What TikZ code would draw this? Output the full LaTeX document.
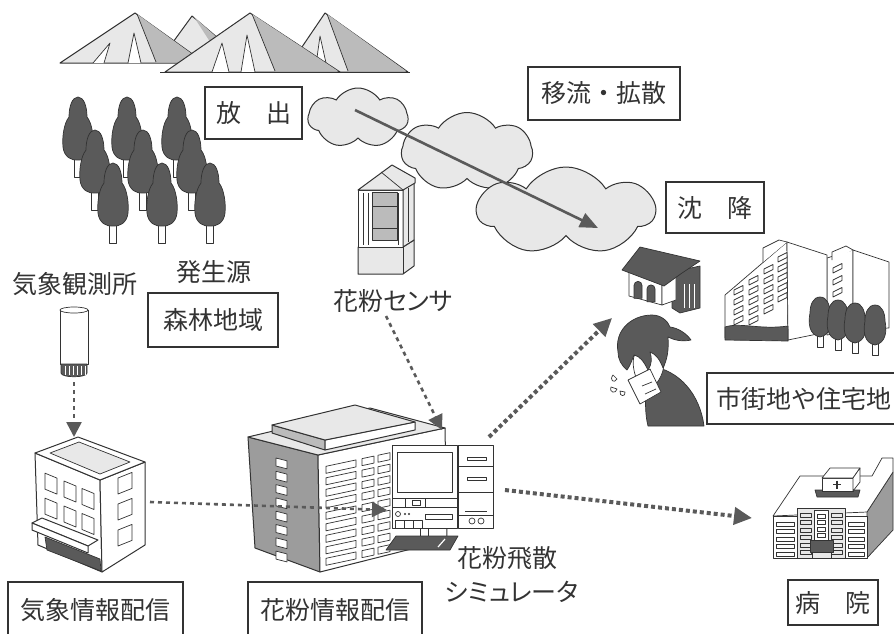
\documentclass[tikz,border=0pt]{standalone}
\usepackage{fontspec}
\setmainfont{Noto Sans CJK JP}
\usetikzlibrary{shapes.symbols,arrows.meta}
\definecolor{ink}{HTML}{333333}
\definecolor{shade}{HTML}{5A5A5A}
\definecolor{stip}{HTML}{E8E8E8}
\definecolor{midg}{HTML}{BBBBBB}
\definecolor{wall}{HTML}{9C9C9C}
\tikzset{
  lbl/.style={font=\fontsize{25}{30}\selectfont, text=ink, inner sep=0pt},
  kana/.style={lbl, font=\fontsize{25}{30}\selectfont\addfontfeatures{RawFeature=+palt}},
  tagbox/.style={lbl, draw=ink, line width=1.2pt},
  outline/.style={draw=ink, line width=1pt, line join=round},
  thin/.style={draw=ink, line width=0.7pt, line join=round},
  haze/.style={cloud, cloud puffs=7, cloud puff arc=115, draw=ink, line width=1pt, fill=stip, inner sep=0pt},
  feed/.style={draw=shade, line width=2.6pt, dash pattern=on 4pt off 4pt, -{Triangle[length=15pt,width=15pt]}},
  spread/.style={draw=shade, line width=4pt, dash pattern=on 4pt off 3pt, -{Triangle[length=18pt,width=17pt]}},
  drift/.style={draw=shade, line width=2.6pt, -{Triangle[length=18pt,width=15pt]}},
  conifer/.pic={
    \draw[thin, fill=white] (-3.5,52) rectangle (3.5,80);
    \draw[thin, fill=shade] (0,0) .. controls (6,0) and (9,10) .. (9,20)
      .. controls (14,26) and (16,40) .. (15,50)
      .. controls (14,60) and (6,64) .. (0,63)
      .. controls (-6,64) and (-14,60) .. (-15,50)
      .. controls (-16,40) and (-14,26) .. (-9,20)
      .. controls (-9,10) and (-6,0) .. (0,0) -- cycle;
  },
  broadleaf/.pic={
    \draw[thin, fill=white] (-3,35) rectangle (3,50);
    \draw[thin, fill=shade] (0,0) .. controls (7,0) and (10,8) .. (10,16)
      .. controls (12,26) and (11,38) .. (0,40)
      .. controls (-11,38) and (-12,26) .. (-10,16)
      .. controls (-10,8) and (-7,0) .. (0,0) -- cycle;
  }
}
% slanted window: x1, x2, top y at x1, height, slope
\newcommand\slantwin[5]{%
  \draw[thin, fill=white] ({#1},{#3}) -- ({#2},{#3+(#5)*((#2)-(#1))}) -- ++(0,{#4}) -- ({#1},{#3+#4}) -- cycle;}
\begin{document}
\begin{tikzpicture}[x=1pt, y=-1pt]
\useasboundingbox (0,0) rectangle (894,633);
\clip (0,0) rectangle (894,633);

% ---------- mountains ----------
\draw[outline, fill=stip] (160,60) -- (192,16) -- (232,50) -- cycle;
\fill[midg] (194,17) -- (214,48) -- (231,50) -- cycle;
\draw[outline, fill=stip] (60,63) -- (135,13) -- (205,63) -- cycle;
\fill[midg] (137,14) -- (156,62) -- (203,62) -- cycle;
\draw[thin] (137,14) -- (156,62);
\draw[thin, fill=white] (93,63) -- (110,43) -- (104,63);
\draw[thin, fill=white] (128,63) -- (134,33) -- (141,63);
\draw[outline, fill=stip] (285,72) -- (325,13) -- (408,72) -- cycle;
\fill[midg] (327,14) -- (348,71) -- (406,71) -- cycle;
\draw[thin] (327,14) -- (348,71);
\draw[thin, fill=white] (315,72) -- (320,36) -- (328,72);
\draw[outline, fill=stip] (165,72) -- (250,13) -- (340,72) -- cycle;
\fill[midg] (252,14) -- (275,71) -- (338,71) -- cycle;
\draw[thin] (252,14) -- (275,71);
\draw[thin, fill=white] (212,72) -- (222,43) -- (229,72);
\draw[thin, fill=white] (241,72) -- (247,35) -- (255,72);
\draw[outline] (160,72) -- (410,72);

% ---------- forest ----------
\foreach \x in {78,127,177} \pic at (\x,97) {conifer};
\foreach \x in {95,143,192} \pic at (\x,130) {conifer};
\foreach \x in {113,162,210} \pic at (\x,163) {conifer};

% ---------- clouds and drift ----------
\node[haze, minimum width=100pt, minimum height=60pt] (c1) at (358,118) {};
\node[haze, minimum width=131pt, minimum height=79pt] (c2) at (467,152) {};
\node[haze, minimum width=177pt, minimum height=88pt] (c3) at (566,211) {};
\coordinate (drift-a) at (355,110);
\coordinate (drift-b) at (598,228);
\draw[drift] (drift-a) -- (drift-b);

% ---------- pollen sensor ----------
\draw[outline, fill=stip] (358,247) -- (403,247) -- (414,240) -- (414,266) -- (403,274) -- (358,274) -- cycle;
\draw[thin] (403,247) -- (403,274);
\draw[outline, fill=white] (358,190) rectangle (403,247);
\draw[outline, fill=stip] (403,190) -- (414,180) -- (414,240) -- (403,247) -- cycle;
\draw[thin] (363,193) -- (363,245) (368,193) -- (368,245) (398,193) -- (398,245) (408,188) -- (408,242);
\draw[thin, fill=midg] (372,192) rectangle (397,240);
\draw[thin] (372,206) -- (397,206) (372,228) -- (397,228);
\draw[outline, fill=stip] (358,190) -- (392,165) -- (415,178) -- (415,183) -- (403,190) -- cycle;
\draw[thin] (381,172) -- (403,190);
\coordinate (sensor) at (386,316);

% ---------- weather station instrument ----------
\draw[thin, fill=white] (60,310) -- (60,364) -- (88,364) -- (88,310);
\draw[thin, fill=white] (74,310) ellipse (14 and 3);
\draw[thin, fill=shade] (61,364) -- (87,364) -- (87,373) .. controls (87,378) and (61,378) .. (61,373) -- cycle;
\foreach \x in {65,69,...,85} \draw[white, line width=0.8pt] (\x,366) -- (\x,375);
\coordinate (obs) at (74,382);

% ---------- weather information office ----------
\draw[outline, fill=white] (35,453) -- (100,480) -- (102,572) -- (38,545) -- cycle;
\draw[outline, fill=white] (100,480) -- (145,462) -- (145,545) -- (102,572) -- cycle;
\draw[outline, fill=white] (35,453) -- (78,437) -- (145,462) -- (100,480) -- cycle;
\draw[thin, fill=stip] (50,453) -- (79,442) -- (130,462) -- (100,474) -- cycle;
\foreach \x in {45,64,82} {
  \slantwin{\x}{\x+12}{469+0.415*(\x-35)}{16}{0.415}
  \slantwin{\x}{\x+12}{494+0.415*(\x-35)}{16}{0.415}
}
\foreach \yy in {478,504,530} {\slantwin{118}{132}{\yy}{16}{-0.4}}
\draw[thin, fill=shade] (45,537) -- (100,559) -- (101,571) -- (47,550) -- cycle;
\draw[outline, fill=white] (32,523) -- (42,518) -- (98,540) -- (88,546) -- cycle;
\draw[outline, fill=white] (32,523) -- (88,546) -- (88,553) -- (32,530) -- cycle;
\coordinate (wb-top) at (74,437);
\coordinate (wb-side) at (150,502);

% ---------- pollen information office ----------
\draw[outline, fill=wall] (248,437) -- (318,455) -- (320,572) -- (255,548) -- cycle;
\draw[outline, fill=white] (318,455) -- (445,428) -- (447,540) -- (320,572) -- cycle;
\draw[outline, fill=stip] (248,437) -- (370,408) -- (445,428) -- (318,455) -- cycle;
\draw[outline, fill=midg] (272,425) -- (325,440) -- (325,450) -- (272,433) -- cycle;
\draw[outline, fill=white] (325,440) -- (415,422) -- (415,430) -- (325,450) -- cycle;
\draw[outline, fill=stip] (272,425) -- (355,405) -- (415,422) -- (325,440) -- cycle;
\foreach \k in {0,...,7} {\slantwin{276}{287}{458+13.3*\k}{8}{0.257}}
\foreach \k in {0,...,8} {
  \slantwin{326}{356}{468+11.5*\k-0.213*8}{7}{-0.213}
  \slantwin{362}{374}{468+11.5*\k-0.213*44}{7}{-0.213}
  \slantwin{378}{390}{468+11.5*\k-0.213*60}{7}{-0.213}
}

% ---------- simulator (computer) ----------
\draw[thin, fill=white] (392,445) rectangle (457,498);
\draw[thin, fill=white] (397,452) rectangle (452,492);
\draw[thin, fill=white] (392,498) rectangle (457,507);
\draw[thin] (405,498) -- (405,507) (412,500) rectangle (420,505) (425,498) -- (425,507);
\draw[thin, fill=white] (392,507) rectangle (457,528);
\draw[thin] (398,514) circle (2.5);
\fill[ink] (405,514) circle (1.2) (409,514) circle (1.2);
\draw[thin] (425,514) rectangle (452,519);
\draw[thin] (395,520) rectangle (404,528) (404,520) rectangle (413,528) (413,520) rectangle (422,528);
\draw[thin, fill=white] (458,445) rectangle (493,528);
\draw[thin] (458,466) -- (493,466) (458,492) -- (493,492) (458,515) -- (493,515);
\draw[thin] (467,457) rectangle (486,460) (467,477) rectangle (486,480);
\draw[thin] (465,511) -- (487,511);
\draw[thin] (472,521) circle (3) (481,521) circle (3);
\draw[thin] (420,528) -- (420,536) (428,528) -- (428,536);
\draw[thin, fill=shade] (386,550) -- (396,536) -- (458,536) -- (450,550) -- cycle;
\draw[white, line width=1.2pt] (438,547) -- (445,539);
\coordinate (pc-in) at (387,510);
\coordinate (pc-top) at (442,430);
\coordinate (pc-up) at (489,437);
\coordinate (pc-right) at (505,490);

% ---------- house ----------
\draw[thin, fill=shade] (672,272) -- (700,266) -- (700,308) -- (680,313) -- (672,308) -- cycle;
\foreach \x in {684,689,694} {\draw[white, line width=1pt] (\x,284) -- (\x,308);}
\draw[thin, fill=white] (629,270) -- (662,284) -- (662,305) -- (629,296) -- cycle;
\draw[thin, fill=white] (662,284) -- (676,276) -- (676,300) -- (662,305) -- cycle;
\foreach \x in {634,647} {\draw[thin, fill=shade] (\x,{297+(\x-629)*0.27}) -- ++(0,-13) arc (180:360:4) -- ++(0,13) -- cycle;}
\draw[thin, fill=shade] (622,270) -- (640,247) -- (700,261) -- (682,273) -- (664,286) -- cycle;

% ---------- person sneezing ----------
\draw[thin, fill=shade] (650,366) .. controls (680,370) and (700,395) .. (704,426) -- (648,426) .. controls (644,410) and (645,388) .. (650,366) -- cycle;
\draw[thin, fill=white] (634,356) .. controls (644,350) and (654,348) .. (662,352) .. controls (666,362) and (664,374) .. (656,384) -- (638,382) .. controls (634,374) and (632,364) .. (634,356) -- cycle;
\draw[thin, fill=shade] (618,352) .. controls (614,330) and (632,315) .. (652,315)
  .. controls (661,315) and (668,321) .. (670,327)
  .. controls (678,328) and (686,333) .. (691,340)
  .. controls (682,342) and (674,340) .. (668,337)
  .. controls (669,350) and (667,360) .. (663,368)
  .. controls (660,360) and (656,354) .. (650,352)
  .. controls (652,358) and (652,364) .. (648,370)
  .. controls (644,362) and (640,356) .. (634,355)
  .. controls (632,360) and (630,366) .. (627,370)
  .. controls (621,365) and (618,359) .. (618,352) -- cycle;
\draw[thin, fill=white] (628,380) -- (650,369) -- (661,392) -- (640,404) -- cycle;
\draw[thin] (642,386) -- (652,382) (645,394) -- (656,389);
\draw[thin] (613,375) .. controls (609,380) and (614,384) .. (617,379) -- cycle;
\draw[thin] (611,387) .. controls (609,393) and (616,394) .. (617,389) -- cycle;
\draw[thin] (620,391) .. controls (619,397) and (626,397) .. (625,392) -- cycle;
\coordinate (town) at (612,318);

% ---------- apartment blocks ----------
\draw[thin, fill=white] (827,258) -- (853,250) -- (853,330) -- (827,335) -- cycle;
\draw[thin, fill=white] (853,250) -- (889,262) -- (889,328) -- (853,330) -- cycle;
\draw[thin, fill=white] (832,260) -- (832,252) -- (846,246) -- (853,250);
\foreach \yy in {268,280,292} {\slantwin{833}{842}{\yy}{5}{-0.5}}
\draw[thin, fill=white] (725,295) -- (787,242) -- (788,340) -- (725,338) -- cycle;
\draw[thin, fill=white] (787,242) -- (827,255) -- (827,332) -- (788,340) -- cycle;
\draw[thin, fill=white] (763,262) -- (763,248) -- (779,240) -- (787,242);
\foreach \x/\yy in {734/290,749/280,764/269,778/257} {
  \foreach \k in {0,...,4} {\slantwin{\x}{\x+9}{\yy+10*\k}{5}{-0.5}}
}
\draw[thin, fill=shade] (725,327) .. controls (740,322) and (760,330) .. (788,326) -- (788,341) -- (725,340) -- cycle;
\pic at (820,297) {broadleaf};
\pic at (838,300) {broadleaf};
\pic at (855,303) {broadleaf};
\pic at (875,305) {broadleaf};

% ---------- hospital ----------
\draw[thin, fill=wall] (867,512) -- (893,472) -- (893,530) -- (867,558) -- cycle;
\draw[thin, fill=white] (773,516) -- (800,476) -- (872,476) -- (882,458) -- (893,458) -- (893,472) -- (867,512) -- cycle;
\draw[thin, fill=stip] (797,508) rectangle (845,558);
\draw[thin, fill=white] (773,516) rectangle (797,558);
\draw[thin, fill=white] (845,516) rectangle (867,558);
\foreach \k in {0,...,4} {
  \draw[thin] (776,{522+7.5*\k}) rectangle (794,{526+7.5*\k});
  \draw[thin] (848,{522+7.5*\k}) rectangle (864,{526+7.5*\k});
}
\foreach \k in {0,...,5} {
  \draw[thin] (800,{513+7.5*\k}) rectangle (811,{517+7.5*\k});
  \draw[thin] (831,{513+7.5*\k}) rectangle (842,{517+7.5*\k});
}
\draw[thin, fill=white] (814,510) rectangle (828,540);
\foreach \k in {0,...,3} {\draw[thin] (817,{514+6.5*\k}) rectangle (825,{518+6.5*\k});}
\draw[thin, fill=shade] (810,540) rectangle (833,552);
\draw[thin] (812,552) -- (812,558) (831,552) -- (831,558);
\draw[thin, fill=shade] (815,490) -- (860,490) -- (858,497) -- (817,497) -- cycle;
\draw[thin, fill=white] (822,478) rectangle (853,491);
\draw[thin, fill=white] (822,478) -- (830,468) -- (860,468) -- (853,478) -- cycle;
\draw[thin, fill=white] (853,478) -- (860,468) -- (860,482) -- (853,491) -- cycle;
\draw[ink, line width=1.4pt] (833,484.5) -- (841,484.5) (837,480.5) -- (837,488.5);
\coordinate (hospital) at (752,518);

% ---------- flows ----------
\draw[feed] (obs) -- (wb-top);
\draw[feed] (wb-side) -- (pc-in);
\draw[feed] (sensor) -- (pc-top);
\draw[spread] (pc-up) -- (town);
\draw[spread] (pc-right) -- (hospital);

% ---------- labels ----------
\node[tagbox, minimum width=97pt, minimum height=52pt] (emit) at (253.5,113) {放　出};
\node[tagbox, minimum width=152pt, minimum height=53pt] (advect) at (604,93.5) {移流・拡散};
\node[tagbox, minimum width=98pt, minimum height=51pt] (settle) at (715,207.5) {沈　降};
\node[lbl] (source) at (214,272) {発生源};
\node[tagbox, minimum width=130pt, minimum height=54pt] (forest) at (213,320) {森林地域};
\node[lbl] (station) at (75,284) {気象観測所};
\node[kana, anchor=west] (sensorlbl) at (333,301) {花粉センサ};
\node[tagbox, minimum width=193pt, minimum height=51pt] (urban) at (803.5,398.5) {市街地や住宅地};
\node[lbl] (sim1) at (507,558) {花粉飛散};
\node[kana, anchor=west] (sim2) at (445,592) {シミュレータ};
\node[tagbox, minimum width=175pt, minimum height=56pt] (wxinfo) at (95.5,610) {気象情報配信};
\node[tagbox, minimum width=174pt, minimum height=56pt] (pollinfo) at (335,610) {花粉情報配信};
\node[tagbox, minimum width=90pt, minimum height=45pt] (clinic) at (833,602.5) {病　院};
\end{tikzpicture}
\end{document}
